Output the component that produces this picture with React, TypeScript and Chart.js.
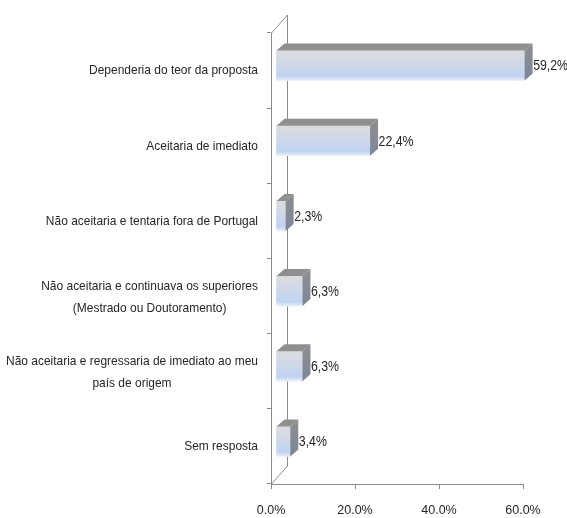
import { useEffect, useRef } from 'react';
import { Chart, registerables } from 'chart.js';

Chart.register(...registerables);

const categories: string[][] = [
  ['Dependeria do teor da proposta'],
  ['Aceitaria de imediato'],
  ['Não aceitaria e tentaria fora de Portugal'],
  ['Não aceitaria e continuava os superiores', '(Mestrado ou Doutoramento)'],
  ['Não aceitaria e regressaria de imediato ao meu', 'país de origem'],
  ['Sem resposta'],
];
const values = [59.2, 22.4, 2.3, 6.3, 6.3, 3.4];
const xTickValues = [0, 20, 40, 60];

const FONT = '"Liberation Sans", Arial, sans-serif';
const TEXT = '#262626';
const AXIS = '#8a8a8a';
const SHIFT_X = 5;
const SHIFT_Y = -5;
const DEPTH_X = 8;
const DEPTH_Y = -7;
const WALL_X = 16;
const WALL_Y = -18;
const SX = 0.88;

const fmtValue = (v: number) => v.toFixed(1).replace('.', ',') + '%';
const fmtTick = (v: number) => v.toFixed(1) + '%';

function narrowText(ctx: CanvasRenderingContext2D, s: string, x: number, y: number, align: CanvasTextAlign) {
  ctx.save();
  ctx.translate(x, y);
  ctx.scale(SX, 1);
  ctx.textAlign = align;
  ctx.fillText(s, 0, 0);
  ctx.restore();
}

const threeD = {
  id: 'threeD',
  beforeDatasetsDraw(chart: any) {
    const { ctx, chartArea } = chart;
    const { left, top, bottom } = chartArea;
    ctx.save();
    ctx.strokeStyle = AXIS;
    ctx.lineWidth = 1;
    ctx.beginPath();
    ctx.moveTo(left + 0.5, top);
    ctx.lineTo(left + WALL_X + 0.5, top + WALL_Y);
    ctx.lineTo(left + WALL_X + 0.5, bottom + WALL_Y);
    ctx.lineTo(left + 0.5, bottom);
    ctx.stroke();
    ctx.restore();
    ctx.save();
    ctx.translate(SHIFT_X, SHIFT_Y);
  },
  afterDatasetsDraw(chart: any) {
    const { ctx } = chart;
    const meta = chart.getDatasetMeta(0);
    meta.data.forEach((el: any, i: number) => {
      const { x, y, base, height } = el.getProps(['x', 'y', 'base', 'height'], true);
      const t = y - height / 2;
      const b = y + height / 2;
      // top face
      ctx.beginPath();
      ctx.moveTo(base, t);
      ctx.lineTo(base + DEPTH_X, t + DEPTH_Y);
      ctx.lineTo(x + DEPTH_X, t + DEPTH_Y);
      ctx.lineTo(x, t);
      ctx.closePath();
      ctx.fillStyle = '#8f8f8f';
      ctx.fill();
      // side face
      const g = ctx.createLinearGradient(0, t + DEPTH_Y, 0, b);
      g.addColorStop(0, '#8e8e8e');
      g.addColorStop(1, '#7c869a');
      ctx.beginPath();
      ctx.moveTo(x, t);
      ctx.lineTo(x + DEPTH_X, t + DEPTH_Y);
      ctx.lineTo(x + DEPTH_X, b + DEPTH_Y);
      ctx.lineTo(x, b);
      ctx.closePath();
      ctx.fillStyle = g;
      ctx.fill();
      // value label
      ctx.fillStyle = TEXT;
      ctx.font = `14px ${FONT}`;
      ctx.textBaseline = 'middle';
      narrowText(ctx, fmtValue(values[i]), x + DEPTH_X + 0.5, y + 1, 'left');
    });
    ctx.restore();

    // category labels
    const yScale = chart.scales.y;
    ctx.save();
    ctx.fillStyle = TEXT;
    ctx.font = `13.6px ${FONT}`;
    ctx.textBaseline = 'middle';
    const rightEdge = 258;
    const lh = 21.5;
    categories.forEach((lines, i) => {
      const cy = yScale.getPixelForValue(i) + (lines.length > 1 ? 1 : 0);
      const w = Math.max(...lines.map((l) => ctx.measureText(l).width)) * SX;
      const cx = rightEdge - w / 2;
      const y0 = cy - ((lines.length - 1) * lh) / 2;
      lines.forEach((l, j) => narrowText(ctx, l, cx, y0 + j * lh, 'center'));
    });
    ctx.restore();
  },
};

export default function App() {
  const ref = useRef<HTMLCanvasElement>(null);
  useEffect(() => {
    document.body.style.margin = '0';
    const canvas = ref.current!;
    const labels = categories.map((c) => c.join(' '));
    const chart = new Chart(canvas, {
      type: 'bar',
      data: {
        labels,
        datasets: [
          {
            data: values,
            borderWidth: 0,
            barThickness: 30,
            backgroundColor: (c: any) => {
              const ch = c.chart;
              if (!ch.chartArea) return '#c6d6ee';
              const yc = ch.scales.y.getPixelForValue(c.dataIndex);
              const g = ch.ctx.createLinearGradient(0, yc - 15, 0, yc + 15);
              g.addColorStop(0, '#dcdcde');
              g.addColorStop(0.45, '#cfd8e8');
              g.addColorStop(0.85, '#bfd3f1');
              g.addColorStop(1, '#e9effa');
              return g;
            },
          },
        ],
      },
      options: {
        indexAxis: 'y',
        responsive: false,
        animation: false,
        devicePixelRatio: 1,
        layout: { padding: { top: 33, right: 44, left: 0, bottom: 0 } },
        plugins: { legend: { display: false }, tooltip: { enabled: false } },
        scales: {
          x: {
            min: 0,
            max: 60,
            afterBuildTicks: (s: any) => {
              s.ticks = xTickValues.map((v) => ({ value: v }));
            },
            afterFit: (s: any) => {
              s.height = 34;
            },
            grid: { drawOnChartArea: false, drawTicks: true, tickLength: 5, color: AXIS },
            border: { display: true, color: AXIS },
            ticks: {
              color: TEXT,
              font: { family: FONT, size: 12.5 },
              padding: 14,
              maxRotation: 0,
              callback: (v: any) => fmtTick(Number(v)),
            },
          },
          y: {
            afterFit: (s: any) => {
              s.width = 271;
            },
            grid: { offset: true, drawOnChartArea: false, drawTicks: true, tickLength: 4, color: AXIS },
            border: { display: true, color: AXIS },
            ticks: { display: false },
          },
        },
      },
      plugins: [threeD],
    });
    return () => chart.destroy();
  }, []);
  return <canvas ref={ref} width={567} height={518} style={{ display: 'block', width: 567, height: 518 }} />;
}
